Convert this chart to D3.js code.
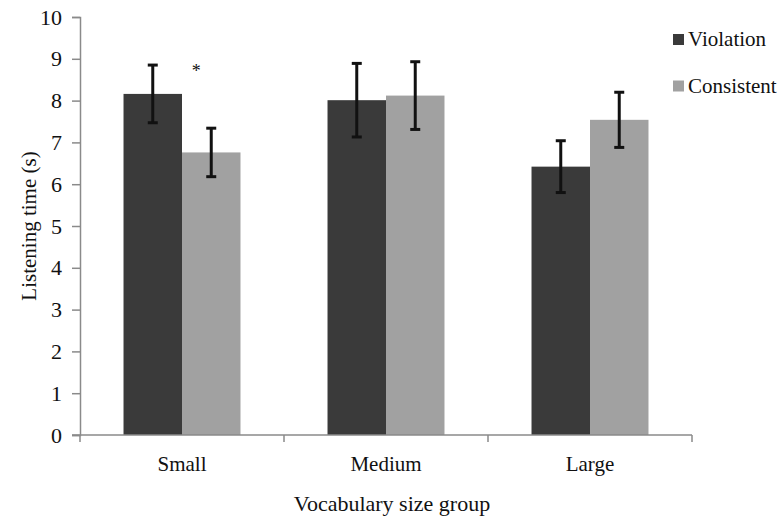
<!DOCTYPE html>
<html>
<head>
<meta charset="utf-8">
<script src="https://cdn.jsdelivr.net/npm/d3@7"></script>
<style>
  body { margin: 0; background: #fff; }
  text { font-family: "Liberation Serif", "Times New Roman", serif; fill: #111; }
</style>
</head>
<body>
<div id="chart"></div>
<script>
// Data
const groups = ['Small', 'Medium', 'Large'];
const seriesNames = ['Violation', 'Consistent'];
const violation = [8.16, 8.01, 6.42];
const violationErr = [0.69, 0.88, 0.62];
const consistent = [6.76, 8.12, 7.54];
const consistentErr = [0.58, 0.81, 0.66];
const yTicks = [0, 1, 2, 3, 4, 5, 6, 7, 8, 9, 10];
const markers = [{group: 'Small', text: '*'}];

const colors = {Violation: '#3a3a3a', Consistent: '#a1a1a1'};
const width = 781, height = 521;
const margin = {left: 80, right: 89, top: 17, bottom: 86};

const svg = d3.select('#chart').append('svg')
    .attr('width', width)
    .attr('height', height);

const x0 = d3.scaleBand()
    .domain(groups)
    .range([margin.left, width - margin.right])
    .paddingInner(0)
    .paddingOuter(0);

const x1 = d3.scaleBand()
    .domain(seriesNames)
    .range([0, x0.bandwidth()])
    .paddingOuter(0.744)
    .paddingInner(0);

const y = d3.scaleLinear()
    .domain([0, 10])
    .range([height - margin.bottom, margin.top]);

// Rows for bars
const rows = [];
groups.forEach((g, i) => {
  rows.push({group: g, series: 'Violation', value: violation[i], err: violationErr[i]});
  rows.push({group: g, series: 'Consistent', value: consistent[i], err: consistentErr[i]});
});

// Y axis
const yAxis = svg.append('g')
    .attr('transform', `translate(${margin.left},0)`)
    .call(d3.axisLeft(y).tickValues(yTicks).tickSize(8).tickPadding(10));
yAxis.select('.domain').attr('stroke', '#8a8a8a').attr('stroke-width', 1.5);
yAxis.selectAll('.tick line').attr('stroke', '#8a8a8a').attr('stroke-width', 1.5);
yAxis.selectAll('.tick text').style('font-size', '22px').attr('fill', '#111');

// Bars
svg.append('g').selectAll('rect')
  .data(rows)
  .join('rect')
    .attr('x', d => x0(d.group) + x1(d.series))
    .attr('y', d => y(d.value))
    .attr('width', x1.bandwidth())
    .attr('height', d => y(0) - y(d.value))
    .attr('fill', d => colors[d.series]);

// Error bars
const eb = svg.append('g').selectAll('g')
  .data(rows)
  .join('g')
    .attr('transform', d => `translate(${x0(d.group) + x1(d.series) + x1.bandwidth() / 2},0)`);
eb.append('line')
    .attr('y1', d => y(d.value + d.err))
    .attr('y2', d => y(d.value - d.err))
    .attr('stroke', '#111').attr('stroke-width', 3);
eb.append('line')
    .attr('x1', -5).attr('x2', 5)
    .attr('y1', d => y(d.value + d.err)).attr('y2', d => y(d.value + d.err))
    .attr('stroke', '#111').attr('stroke-width', 3);
eb.append('line')
    .attr('x1', -5).attr('x2', 5)
    .attr('y1', d => y(d.value - d.err)).attr('y2', d => y(d.value - d.err))
    .attr('stroke', '#111').attr('stroke-width', 3);

// X axis
const xAxis = svg.append('g')
    .attr('transform', `translate(0,${y(0)})`);
xAxis.append('line')
    .attr('x1', margin.left - 8).attr('x2', width - margin.right)
    .attr('stroke', '#8a8a8a').attr('stroke-width', 1.5);
xAxis.selectAll('line.tick')
  .data(groups.concat(['end']))
  .join('line')
    .attr('class', 'tick')
    .attr('x1', (d, i) => i < groups.length ? x0(d) : x0.range()[1])
    .attr('x2', (d, i) => i < groups.length ? x0(d) : x0.range()[1])
    .attr('y1', 0).attr('y2', 7)
    .attr('stroke', '#8a8a8a').attr('stroke-width', 1.5);
xAxis.selectAll('text')
  .data(groups)
  .join('text')
    .attr('x', d => x0(d) + x0.bandwidth() / 2)
    .attr('y', 36)
    .attr('text-anchor', 'middle')
    .style('font-size', '21px')
    .text(d => d);

// Significance marker
svg.selectAll('text.marker')
  .data(markers)
  .join('text')
    .attr('class', 'marker')
    .attr('x', d => x0(d.group) + x1('Consistent') + x1.bandwidth() / 2 - 15)
    .attr('y', y(8.57))
    .attr('text-anchor', 'middle')
    .style('font-size', '18px')
    .text(d => d.text);

// Axis titles
svg.append('text')
    .attr('transform', `translate(36,${(y(0) + y(10)) / 2}) rotate(-90)`)
    .attr('text-anchor', 'middle')
    .style('font-size', '21px')
    .text('Listening time (s)');
svg.append('text')
    .attr('x', (x0.range()[0] + x0.range()[1]) / 2 + 6)
    .attr('y', 511)
    .attr('text-anchor', 'middle')
    .style('font-size', '22px')
    .text('Vocabulary size group');

// Legend
const legend = svg.append('g').selectAll('g')
  .data(seriesNames)
  .join('g')
    .attr('transform', (d, i) => `translate(673,${40 + i * 46.5})`);
legend.append('rect')
    .attr('x', 0).attr('y', -6)
    .attr('width', 11).attr('height', 11)
    .attr('fill', d => colors[d]);
legend.append('text')
    .attr('x', 15).attr('y', 6)
    .style('font-size', '21px')
    .text(d => d);
</script>
</body>
</html>
